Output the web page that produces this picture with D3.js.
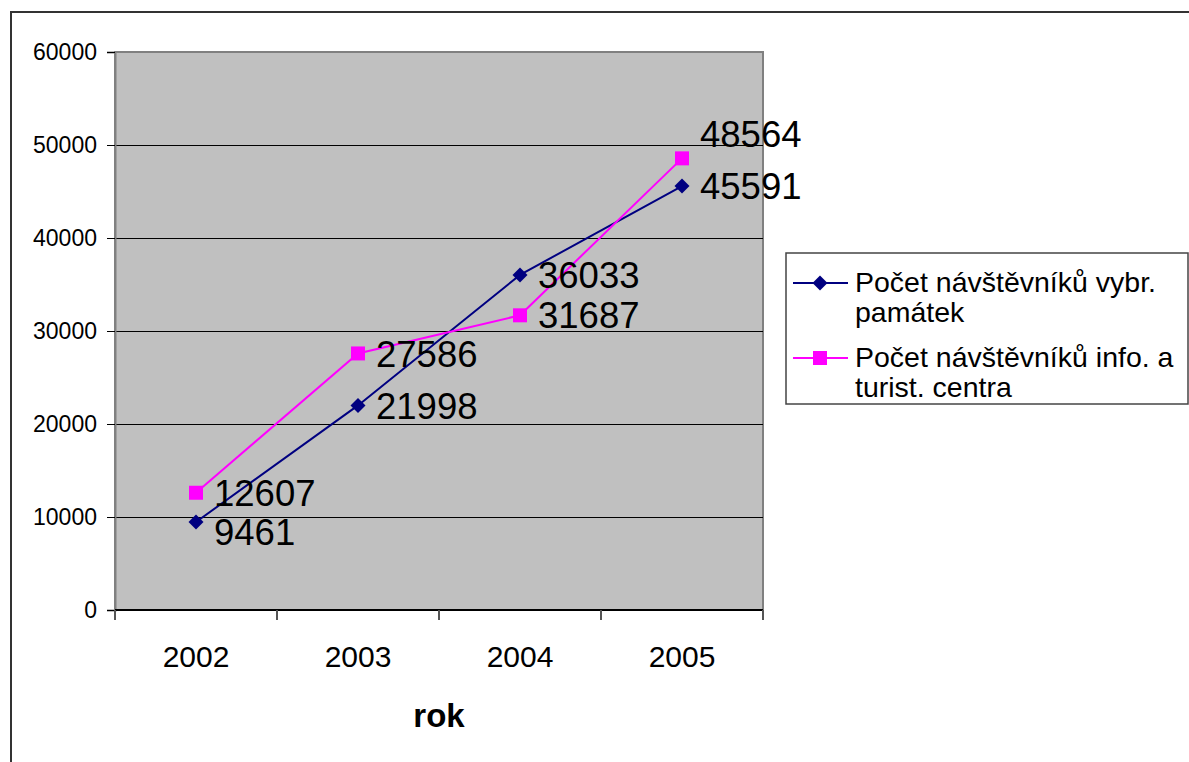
<!DOCTYPE html>
<html>
<head>
<meta charset="utf-8">
<script src="https://cdn.jsdelivr.net/npm/d3@7"></script>
<style>
  html, body { margin: 0; padding: 0; background: #fff; }
  svg { display: block; font-family: "Liberation Sans", Arial, sans-serif; }
</style>
</head>
<body>
<svg id="chart" width="1189" height="762"></svg>
<script>
// Visitor counts per year
const years = ["2002", "2003", "2004", "2005"];
const pamatky = [9461, 21998, 36033, 45591];      // selected monuments
const infoCentra = [12607, 27586, 31687, 48564];  // info & tourist centre
const yTicks = [0, 10000, 20000, 30000, 40000, 50000, 60000];
const seriesNames = [
  ["Počet návštěvníků vybr.", "památek"],
  ["Počet návštěvníků info. a", "turist. centra"]
];
const xTitle = "rok";

// Layout
const plot = { left: 115, right: 763, top: 52, bottom: 610 };
const svg = d3.select("#chart");

// Outer chart frame (runs past the right and bottom edges)
svg.append("rect")
  .attr("x", 11).attr("y", 12)
  .attr("width", 1250).attr("height", 800)
  .attr("fill", "#fff").attr("stroke", "#333").attr("stroke-width", 2);

const x = d3.scaleBand().domain(years).range([plot.left, plot.right]).paddingInner(0).paddingOuter(0);
const y = d3.scaleLinear().domain([0, 60000]).range([plot.bottom, plot.top]);
const cx = d => x(d) + x.bandwidth() / 2;

// Plot background
svg.append("rect")
  .attr("x", plot.left).attr("y", plot.top)
  .attr("width", plot.right - plot.left).attr("height", plot.bottom - plot.top)
  .attr("fill", "#c0c0c0").attr("stroke", "#808080").attr("stroke-width", 2);

// Horizontal gridlines
svg.append("g").selectAll("line")
  .data(yTicks.filter(v => v > 0 && v < 60000))
  .join("line")
  .attr("x1", plot.left).attr("x2", plot.right)
  .attr("y1", d => Math.round(y(d)) + 0.5).attr("y2", d => Math.round(y(d)) + 0.5)
  .attr("stroke", "#000").attr("stroke-width", 1);

// Y axis
const yAxis = svg.append("g")
  .attr("transform", `translate(${plot.left},0)`)
  .call(d3.axisLeft(y).tickValues(yTicks).tickSize(8).tickPadding(10).tickFormat(d3.format("d")));
yAxis.select(".domain").attr("stroke", "#808080").attr("stroke-width", 2);
yAxis.selectAll(".tick line").attr("stroke", "#000");
yAxis.selectAll(".tick text").attr("font-size", 23).attr("fill", "#000")
  .attr("font-family", '"Liberation Sans", Arial, sans-serif');

// X axis: ticks at category boundaries, labels at band centres
const xg = svg.append("g");
xg.append("line")
  .attr("x1", plot.left).attr("x2", plot.right)
  .attr("y1", plot.bottom).attr("y2", plot.bottom)
  .attr("stroke", "#000").attr("stroke-width", 2);
const bounds = years.map(d => x(d)).concat([x(years[years.length - 1]) + x.bandwidth()]);
xg.selectAll("line.tk").data(bounds).join("line").attr("class", "tk")
  .attr("x1", d => d).attr("x2", d => d)
  .attr("y1", plot.bottom).attr("y2", plot.bottom + 10)
  .attr("stroke", "#555").attr("stroke-width", 2);
xg.selectAll("text").data(years).join("text")
  .attr("x", d => cx(d)).attr("y", 667)
  .attr("text-anchor", "middle").attr("font-size", 30).attr("fill", "#000")
  .text(d => d);

// Axis title
svg.append("text")
  .attr("x", (plot.left + plot.right) / 2).attr("y", 727)
  .attr("text-anchor", "middle").attr("font-size", 33).attr("font-weight", "bold")
  .text(xTitle);

// Marker shapes: square rotated 45° and plain square
const diamond = r => `M0,${-r}L${r},0L0,${r}L${-r},0Z`;
const square = r => `M${-r},${-r}H${r}V${r}H${-r}Z`;

// Series
const series = [
  { values: pamatky, color: "#000080", shape: diamond, r: 7.5, nudge: [10, 0, 0, 0] },
  { values: infoCentra, color: "#ff00ff", shape: square, r: 7, nudge: [0, 0, 0, -24] }
];
const line = d3.line().x(d => cx(d.year)).y(d => y(d.value));

series.forEach(s => {
  const pts = years.map((yr, i) => ({ year: yr, value: s.values[i], nudge: s.nudge[i] }));
  svg.append("path").datum(pts)
    .attr("d", line).attr("fill", "none")
    .attr("stroke", s.color).attr("stroke-width", 2);
  svg.append("g").selectAll("path").data(pts).join("path")
    .attr("transform", d => `translate(${cx(d.year)},${y(d.value)})`)
    .attr("d", s.shape(s.r))
    .attr("fill", s.color);
});

// Data labels, drawn after the lines so they sit on top
series.forEach(s => {
  const pts = years.map((yr, i) => ({ year: yr, value: s.values[i], nudge: s.nudge[i] }));
  svg.append("g").selectAll("text").data(pts).join("text")
    .attr("x", d => cx(d.year) + 18)
    .attr("y", d => y(d.value) + d.nudge)
    .attr("dy", "0.36em")
    .attr("font-size", 36.5).attr("fill", "#000")
    .text(d => d.value);
});

// Legend
const lg = svg.append("g");
lg.append("rect")
  .attr("x", 786).attr("y", 253).attr("width", 402).attr("height", 151)
  .attr("fill", "#fff").attr("stroke", "#444").attr("stroke-width", 1.5);
const legendRows = [283, 358];
series.forEach((s, i) => {
  const ly = legendRows[i];
  lg.append("line").attr("x1", 793).attr("x2", 848).attr("y1", ly).attr("y2", ly)
    .attr("stroke", s.color).attr("stroke-width", 2);
  lg.append("path").attr("transform", `translate(820,${ly})`)
    .attr("d", s.shape(s.r)).attr("fill", s.color);
  seriesNames[i].forEach((t, j) => {
    lg.append("text").attr("x", 855).attr("y", ly + 9 + j * 30)
      .attr("font-size", 28.5).attr("fill", "#000").text(t);
  });
});
</script>
</body>
</html>
